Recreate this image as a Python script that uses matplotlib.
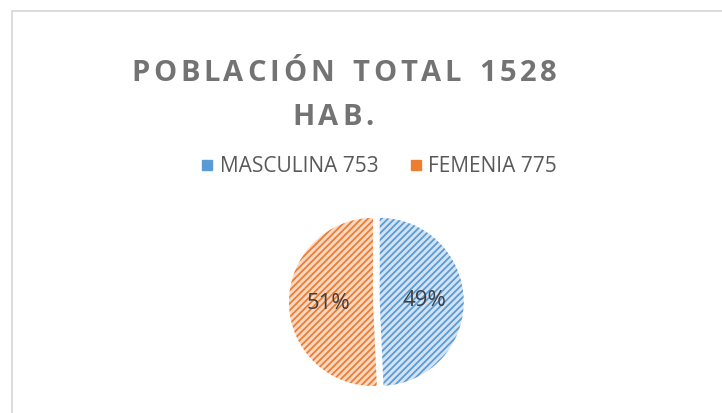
import matplotlib
matplotlib.use("Agg")
import matplotlib.pyplot as plt
from matplotlib.patches import Rectangle
from matplotlib.lines import Line2D

categories = ["MASCULINA 753", "FEMENIA 775"]
values = [753, 775]
title_lines = ["POBLACIÓN TOTAL 1528", "HAB."]

plt.rcParams['hatch.linewidth'] = 1.3
W, H = 722, 413
fig = plt.figure(figsize=(W/100, H/100), dpi=100)
fig.patch.set_facecolor("white")

# outer border
fig.add_artist(Rectangle((11.5/W, -0.1), 1.0, (H - 10.5)/H + 0.1, transform=fig.transFigure,
                         fill=False, edgecolor="#d9d9d9", linewidth=1.3))

blue_fill, blue_line = "#d3e3f4", "#5b9bd5"
orng_fill, orng_line = "#fad8c4", "#ed7d31"
fonts = ["Open Sans", "DejaVu Sans"]

cx, cy, r = 373, 413 - 302, 84
lim = 1.2
ax = fig.add_axes([(cx - r*lim)/W, (cy - r*lim)/H, 2*r*lim/W, 2*r*lim/H])
wedges, texts, autotexts = ax.pie(values, startangle=90, counterclock=False,
                                  explode=[0.08, 0], autopct='%1.0f%%', pctdistance=0.53,
                                  textprops=dict(fontsize=16, color="#404040", family=fonts))
fills = [blue_fill, orng_fill]
lines = [blue_line, orng_line]
for w, f, l in zip(wedges, fills, lines):
    w.set_facecolor(f)
    w.set_edgecolor(l)
    w.set_linewidth(0)
    w.set_hatch('/////')
ax.set_xlim(-lim, lim)
ax.set_ylim(-lim, lim)
ax.set_aspect('equal')
ax.axis('off')

# title with letter spacing
fig.canvas.draw()
renderer = fig.canvas.get_renderer()
def char_widths(s, **kw):
    widths = []
    for ch in s:
        t = fig.text(0, 0, ch if ch != ' ' else 'n', **kw)
        bb = t.get_window_extent(renderer)
        widths.append(bb.width if ch != ' ' else bb.width * 0.55)
        t.remove()
    return widths

def spaced_text(s, xc, y, spacing, **kw):
    widths = char_widths(s, **kw)
    total = sum(widths) + spacing * (len(s) - 1)
    x = xc - total / 2
    for ch, w in zip(s, widths):
        if ch != ' ':
            fig.text(x / W, y / H, ch, ha='left', va='baseline', **kw)
        x += w + spacing

tkw = dict(fontsize=21, fontweight='bold', color="#737373", family=fonts)
w0 = char_widths(title_lines[0], **tkw)
spacing = (426 - sum(w0)) / (len(title_lines[0]) - 1)
spaced_text(title_lines[0], 344, 413 - 81, spacing, **tkw)
spaced_text(title_lines[1], 333, 413 - 125, spacing, **tkw)

# legend
handles = [Line2D([], [], marker='s', linestyle='none', markersize=7,
                  markerfacecolor=c, markeredgecolor=c) for c in [blue_line, orng_line]]
fig.legend(handles, categories, loc='center', bbox_to_anchor=(379/W, (413 - 167)/H),
           ncol=2, frameon=False, handlelength=0.6, handletextpad=0.3,
           columnspacing=1.5, labelcolor="#595959",
           prop=dict(family=fonts, size=15))

fig.savefig("out.png", dpi=100, facecolor="white")
